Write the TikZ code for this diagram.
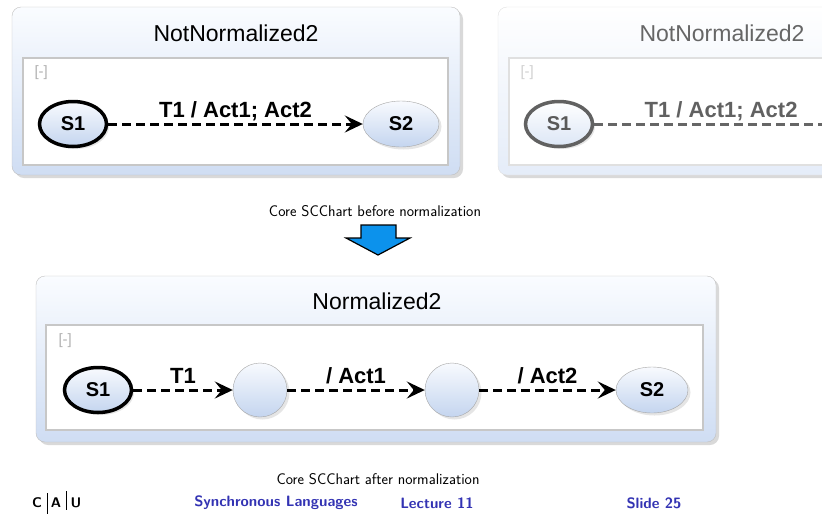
\documentclass[tikz,border=0pt]{standalone}
\usepackage{fontspec}
\newfontfamily\klighd{Liberation Sans}
\usetikzlibrary{arrows.meta,shapes.geometric,shadows,positioning}
\definecolor{boxtop}{RGB}{250,252,255}
\definecolor{boxbot}{RGB}{207,221,243}
\definecolor{sttop}{RGB}{248,250,254}
\definecolor{stbot}{RGB}{196,213,239}
\definecolor{struct}{RGB}{51,51,179}
\definecolor{arrowblue}{RGB}{12,146,236}

\begin{document}
\begin{tikzpicture}[x=1pt,y=-1pt,
  region/.style={rectangle, draw=black!25, rounded corners=9pt, top color=boxtop, bottom color=boxbot,
    drop shadow={shadow xshift=3pt, shadow yshift=-3pt, opacity=0.3}},
  inner/.style={rectangle, draw=black!22, line width=1.5pt, fill=white},
  title/.style={font=\klighd\fontsize{23}{27}\selectfont},
  fold/.style={anchor=west, text=black!30, font=\klighd\fontsize{15}{17}\selectfont},
  state/.style={ellipse, draw=black!35, minimum width=76pt, minimum height=46pt,
    inner sep=0pt, top color=sttop, bottom color=stbot, font=\klighd\bfseries\fontsize{20}{24}\selectfont,
    drop shadow={shadow xshift=2.5pt, shadow yshift=-2.5pt, opacity=0.2}},
  initial/.style={state, draw=black, line width=3.5pt, minimum width=67pt, minimum height=45pt},
  transient/.style={state, minimum width=54pt, minimum height=54pt},
  trans/.style={draw=black, line width=3pt, dash pattern=on 9pt off 5pt,
    -{Stealth[length=18pt, width=17pt, inset=7pt]}},
  lbl/.style={above=5pt, inner sep=0pt, text depth=0pt, font=\klighd\bfseries\fontsize{22}{26}\selectfont},
  caption/.style={font=\sffamily\fontsize{15.5}{18}\selectfont},
  foot/.style={text=struct, font=\sffamily\bfseries\fontsize{15}{18}\selectfont}
]
\clip (0,0) rectangle (822,515);

% before normalization
\node[region, minimum width=448pt, minimum height=168pt] (nn) at (236,91) {};
\node[title] (nntitle) at (236,33) {NotNormalized2};
\node[inner, minimum width=425pt, minimum height=107pt] (nnreg) at (235.5,111.5) {};
\node[fold] (nnfold) at (31,73) {[-]};
\node[initial] (a1) at (73,124) {S1};
\node[state] (a2) at (401,124) {S2};
\draw[trans] (a1) -- node[lbl] {T1 / Act1; Act2} (a2);

% same chart, faded
\begin{scope}[region/.append style={draw=black!12, top color=white, bottom color=boxbot!55},
  inner/.append style={draw=black!12}]
\node[region, minimum width=448pt, minimum height=168pt] (mm) at (722,91) {};
\node[title, text=black!60] (mmtitle) at (722,33) {NotNormalized2};
\node[inner, minimum width=425pt, minimum height=107pt] (mmreg) at (721.5,111.5) {};
\node[fold, text=black!18] (mmfold) at (517,73) {[-]};
\node[initial, draw=black!62, text=black!65, top color=white, bottom color=stbot!60] (b1) at (559,124) {S1};
\coordinate (b2) at (848,124);
\draw[trans, draw=black!60, -] (b1) -- node[lbl, text=black!62] {T1 / Act1; Act2} (b2);
\end{scope}

\node[caption] (cap1) at (375,211) {Core SCChart before normalization};
\draw[fill=arrowblue, line width=1.2pt, line join=miter]
  (361,225) -- (396,225) -- (396,238) -- (410,238) -- (378,255) -- (346,238) -- (361,238) -- cycle;

% after normalization
\node[region, minimum width=680pt, minimum height=166pt] (nz) at (376,359) {};
\node[title] (nztitle) at (377,301) {Normalized2};
\node[inner, minimum width=657pt, minimum height=105pt] (nzreg) at (374.5,377.5) {};
\node[fold] (nzfold) at (55,341) {[-]};
\node[initial] (c1) at (98,390) {S1};
\node[transient] (c2) at (260,390) {};
\node[transient] (c3) at (452,390) {};
\node[state, minimum width=72pt] (c4) at (652,390) {S2};
\draw[trans] (c1) -- node[lbl] {T1} (c2);
\draw[trans] (c2) -- node[lbl] {/ Act1} (c3);
\draw[trans] (c3) -- node[lbl] {/ Act2} (c4);

\node[caption] (cap2) at (378,479) {Core SCChart after normalization};

% footline
\node[font=\sffamily\bfseries\fontsize{14}{16}\selectfont] (lc) at (37,503) {C};
\node[font=\sffamily\bfseries\fontsize{14}{16}\selectfont] (la) at (56,503) {A};
\node[font=\sffamily\bfseries\fontsize{14}{16}\selectfont] (lu) at (76,503) {U};
\draw[line width=0.6pt] (47,493) -- (47,514);
\draw[line width=0.6pt] (66,491) -- (66,510);
\node[foot] (course) at (276,503) {Synchronous Languages};
\node[foot] (lecture) at (437,503) {Lecture 11};
\node[foot] (slide) at (654,503) {Slide 25};
\end{tikzpicture}
\end{document}
